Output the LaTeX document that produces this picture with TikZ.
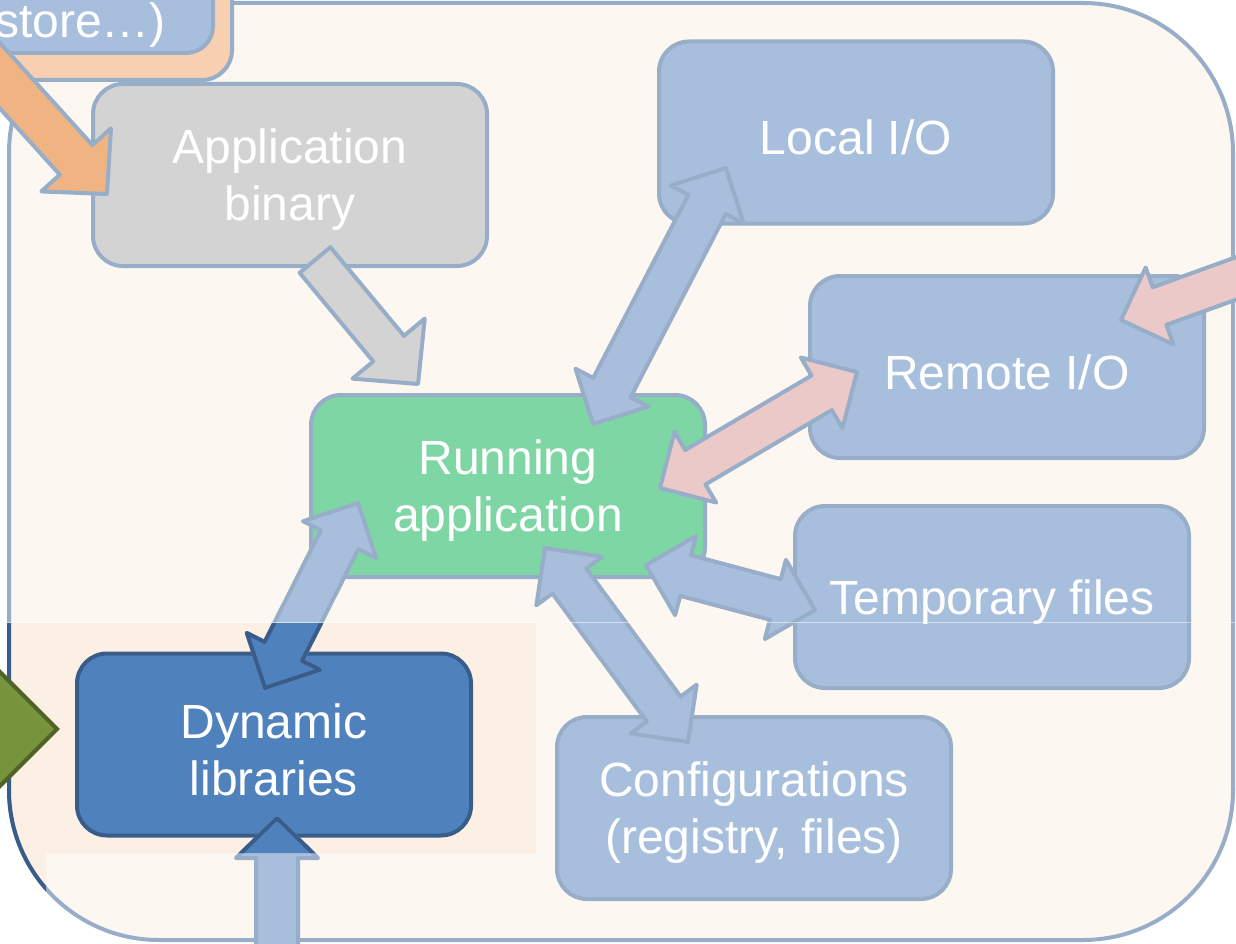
\documentclass[tikz,border=0pt]{standalone}
\usepackage{fontspec}
\setmainfont{Liberation Sans}
\usetikzlibrary{calc}

\definecolor{cream}{HTML}{FCF7F1}
\definecolor{edge}{HTML}{98AEC8}
\definecolor{paleblue}{HTML}{A7BFDD}
\definecolor{greybox}{HTML}{D3D3D3}
\definecolor{mint}{HTML}{7FD6A5}
\definecolor{deepblue}{HTML}{4F81BD}
\definecolor{deepedge}{HTML}{385D8A}
\definecolor{rose}{HTML}{EBC9C8}
\definecolor{apricot}{HTML}{F0B482}
\definecolor{peach}{HTML}{F6D0B0}
\definecolor{olive}{HTML}{77933C}
\definecolor{oliveedge}{HTML}{4F6228}
\definecolor{tint}{HTML}{FCEFE4}

\tikzset{
  lbl/.style={text=white, align=center, inner sep=0pt,
              font=\fontsize{48pt}{57pt}\selectfont},
  box/.style={draw=edge, line width=4pt, rounded corners=30pt,
              minimum width=394pt, minimum height=182pt, inner sep=0pt},
  boxtext/.style={label={[lbl, yshift=-5pt]center:{#1}}},
  arr/.style={draw=edge, line width=4pt, line join=round, fill=#1},
}

% block arrow with a head at both ends:
% #1 style, #2 from, #3 to, #4 head length, #5 head half width, #6 shaft half width
\newcommand\dblarrow[6]{%
  \pgfpointdiff{\pgfpointanchor{#2}{center}}{\pgfpointanchor{#3}{center}}%
  \pgfgetlastxy\badx\bady
  \pgfmathsetmacro\baang{atan2(\bady,\badx)}%
  \pgfmathsetmacro\balen{veclen(\badx,\bady)}%
  \draw[#1, shift={(#2)}, rotate=\baang]
    (0pt,0pt) -- (#4pt,#5pt) -- (#4pt,#6pt) -- (\balen pt-#4pt,#6pt)
    -- (\balen pt-#4pt,#5pt) -- (\balen pt,0pt) -- (\balen pt-#4pt,-#5pt)
    -- (\balen pt-#4pt,-#6pt) -- (#4pt,-#6pt) -- (#4pt,-#5pt) -- cycle;
}
% block arrow with a single head at the #3 end
\newcommand\sglarrow[6]{%
  \pgfpointdiff{\pgfpointanchor{#2}{center}}{\pgfpointanchor{#3}{center}}%
  \pgfgetlastxy\badx\bady
  \pgfmathsetmacro\baang{atan2(\bady,\badx)}%
  \pgfmathsetmacro\balen{veclen(\badx,\bady)}%
  \draw[#1, shift={(#2)}, rotate=\baang]
    (0pt,#6pt) -- (\balen pt-#4pt,#6pt) -- (\balen pt-#4pt,#5pt)
    -- (\balen pt,0pt) -- (\balen pt-#4pt,-#5pt) -- (\balen pt-#4pt,-#6pt)
    -- (0pt,-#6pt) -- cycle;
}

\begin{document}
\begin{tikzpicture}[x=1pt, y=-1pt]
\useasboundingbox (0,0) rectangle (1236,944);
\clip (0,0) rectangle (1236,944);
\fill[white] (0,0) rectangle (1236,944);

% outer frame
\node[draw=edge, fill=cream, line width=4pt, rounded corners=150pt,
      minimum width=1224pt, minimum height=937pt, inner sep=0pt] (frame) at (621,471.5) {};

% highlighted lower-left band
\begin{scope}
  \clip[rounded corners=150pt] (9,3) rectangle (1233,940);
  \clip (0,623) rectangle (536,853) (0,853) rectangle (46,944);
  \fill[tint] (0,600) rectangle (540,944);
\end{scope}
\begin{scope}
  \clip (0,623) rectangle (536,853) (0,853) rectangle (46,944);
  \draw[deepedge, line width=4pt, rounded corners=150pt] (9,3) rectangle (1233,940);
\end{scope}

% source group in the top-left corner
\draw[fill=peach, draw=edge, line width=4pt, rounded corners=30pt] (-200,-200) rectangle (232,80);
\draw[fill=paleblue, draw=edge, line width=4pt, rounded corners=27pt] (-300,-200) rectangle (213,53);
\node[lbl, anchor=base east] (store) at (166,38) {store…)};

% boxes
\node[box, fill=greybox,  boxtext={Application\\binary}] (bin) at (290,175) {};
\node[box, fill=paleblue, boxtext={Local I/O}] (local) at (856,132.5) {};
\node[box, fill=paleblue, boxtext={Remote I/O}] (remote) at (1007,367) {};
\node[box, fill=mint,     boxtext={Running\\application}] (run) at (508,486) {};
\node[box, fill=paleblue, boxtext={Temporary files}] (temp) at (992,597) {};
\node[box, fill=paleblue, boxtext={Configurations\\(registry, files)}] (conf) at (754,808) {};
\node[box, fill=deepblue, draw=deepedge, boxtext={Dynamic\\libraries}] (dyn) at (274,744.5) {};

% arrow end points
\coordinate (srcA)  at (-27,46);    \coordinate (srcB)  at (107,194);
\coordinate (binA)  at (315,260);   \coordinate (binB)  at (418,384);
\coordinate (locA)  at (593,424);   \coordinate (locB)  at (726,168);
\coordinate (remA)  at (660,488);   \coordinate (remB)  at (857,372);
\coordinate (netA)  at (1309,252);  \coordinate (netB)  at (1121,320);
\coordinate (tmpA)  at (646,565);   \coordinate (tmpB)  at (815,610);
\coordinate (cfgA)  at (545,548);   \coordinate (cfgB)  at (688,742);
\coordinate (dynA)  at (358,503);   \coordinate (dynB)  at (265,688);
\coordinate (botA)  at (277,1000);  \coordinate (botB)  at (277,818);

% connectors
\sglarrow{arr=apricot}{srcA}{srcB}{46}{47}{22}
\sglarrow{arr=greybox}{binA}{binB}{46}{47}{20}
\dblarrow{arr=paleblue}{locA}{locB}{41}{41}{21}
\dblarrow{arr=rose}{remA}{remB}{41}{41}{20}
\sglarrow{arr=rose}{netA}{netB}{41}{41}{20}
\dblarrow{arr=paleblue}{tmpA}{tmpB}{41}{41}{21}
\dblarrow{arr=paleblue}{cfgA}{cfgB}{41}{41}{21}
\dblarrow{arr=paleblue}{dynA}{dynB}{41}{41}{21}
\sglarrow{arr=paleblue}{botA}{botB}{40}{41}{21}

% the same connectors inside the highlighted band
\begin{scope}
  \clip (0,623) rectangle (536,853) (0,853) rectangle (46,944);
  \dblarrow{arr=deepblue, draw=deepedge}{dynA}{dynB}{41}{41}{21}
  \sglarrow{arr=deepblue, draw=deepedge}{botA}{botB}{40}{41}{21}
\end{scope}

% incoming chevron on the left
\draw[fill=olive, draw=oliveedge, line width=4pt] (57,729) -- (-25,647) -- (-25,811) -- cycle;

% thin seam
\draw[white, opacity=0.5, line width=1pt] (0,622.5) -- (1236,622.5);
\end{tikzpicture}
\end{document}
